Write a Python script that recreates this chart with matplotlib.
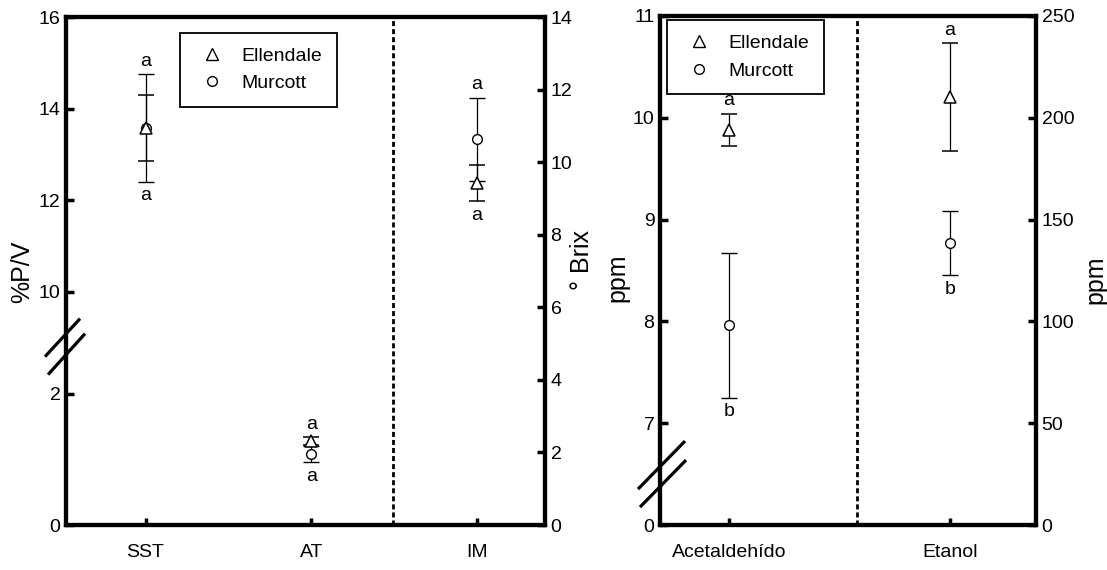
import numpy as np
import matplotlib.pyplot as plt
from matplotlib.lines import Line2D
from matplotlib.ticker import FixedLocator

plt.rcParams['font.family'] = ['Liberation Sans', 'DejaVu Sans']
plt.rcParams['font.size'] = 14

# ---- datos panel izquierdo ----
left_cats = ['SST', 'AT', 'IM']
left_side = ['right', 'left', 'left']
left_ell = [10.94, 1.28, 12.37]
left_ell_err = [0.90, 0.06, 0.39]
left_mur = [10.94, 1.08, 13.33]
left_mur_err = [1.48, 0.12, 0.91]
left_top = ['a', 'a', 'a']
left_bot = ['a', 'a', 'a']
left_yticks = [0, 2, 10, 12, 14, 16]
brix_ticks = [0, 2, 4, 6, 8, 10, 12, 14]

# ---- datos panel derecho ----
right_cats = ['Acetaldehído', 'Etanol']
right_side = ['left', 'right']
right_ell = [9.88, 210.0]
right_ell_err = [0.16, 26.5]
right_mur = [7.96, 138.5]
right_mur_err = [0.71, 15.7]
right_top = ['a', 'a']
right_bot = ['b', 'b']
ppm_left_ticks = [0, 7, 8, 9, 10, 11]
ppm_right_ticks = [0, 50, 100, 150, 200, 250]

W, H = 1107, 570
fig = plt.figure(figsize=(W / 100, H / 100), dpi=100)


def box(l, r, t, b):
    return [l / W, 1 - b / H, (r - l) / W, (b - t) / H]


def style(ax, side):
    for s in ax.spines.values():
        s.set_linewidth(3)
        s.set_color('black')
    ax.tick_params(axis='y', which='major', direction='in', length=6, width=2.5,
                   pad=4, left=(side == 'left'), labelleft=(side == 'left'),
                   right=(side == 'right'), labelright=(side == 'right'))
    ax.tick_params(axis='y', which='minor', left=False, right=False)


def panel(ax, axr, cats, side, ell, ell_err, mur, mur_err, top, bot):
    x = np.arange(len(cats))
    for i in range(len(cats)):
        a = axr if side[i] == 'right' else ax
        a.errorbar(x[i], mur[i], yerr=mur_err[i], fmt='o', ms=7, mfc='white',
                   mec='black', mew=1, ecolor='black', elinewidth=0.9,
                   capsize=5.5, capthick=0.9, zorder=3)
        a.errorbar(x[i], ell[i], yerr=ell_err[i], fmt='^', ms=9, mfc='white',
                   mec='black', mew=1.1, ecolor='black', elinewidth=0.9,
                   capsize=5.5, capthick=0.9, zorder=4)
        hi = max(ell[i] + ell_err[i], mur[i] + mur_err[i])
        lo = min(ell[i] - ell_err[i], mur[i] - mur_err[i])
        a.annotate(top[i], (x[i], hi), xytext=(0, 6), textcoords='offset points',
                   ha='center', va='baseline')
        a.annotate(bot[i], (x[i], lo), xytext=(0, -13.5), textcoords='offset points',
                   ha='center', va='baseline')
    ax.set_xticks(x, cats)
    ax.tick_params(axis='x', direction='in', length=5, width=2.5, pad=14, top=False)
    axr.tick_params(axis='x', bottom=False, top=False, labelbottom=False)


def legend(ax, anchor):
    h = [Line2D([], [], marker='^', ls='none', mfc='white', mec='black', ms=9),
         Line2D([], [], marker='o', ls='none', mfc='white', mec='black', ms=7)]
    lg = ax.legend(h, ['Ellendale', 'Murcott'], loc='upper left', bbox_to_anchor=anchor,
                   borderaxespad=0, fancybox=False, edgecolor='black', framealpha=1,
                   handlelength=1.8, handletextpad=0.6, borderpad=0.75, labelspacing=0.5)
    lg.get_frame().set_linewidth(1.3)
    lg.set_zorder(10)


def draw_break(ax, yval, segs):
    cx, cy = ax.transData.transform((ax.get_xlim()[0], yval))
    inv = fig.transFigure.inverted()
    for dx0, dy0, dx1, dy1 in segs:
        p = inv.transform([(cx + dx0, cy + dy0), (cx + dx1, cy + dy1)])
        fig.add_artist(Line2D(p[:, 0], p[:, 1], color='black', lw=2.3,
                              solid_capstyle='butt', zorder=20))


# ---------------- panel izquierdo ----------------
lp_vals, lp_pos = [0, 2, 10, 16], [0, 3.62, 6.43, 14.0]
ax1 = fig.add_axes(box(66, 545, 17, 525))
ax1.set_yscale('function', functions=(lambda v: np.interp(v, lp_vals, lp_pos),
                                      lambda b: np.interp(b, lp_pos, lp_vals)))
ax1.set_ylim(0, 16)
ax1.yaxis.set_major_locator(FixedLocator(left_yticks))
ax1.set_yticklabels([str(t) for t in left_yticks])
ax1.set_xlim(-0.48, 2.41)
ax1b = ax1.twinx()
ax1b.set_ylim(0, 14)
ax1b.set_yticks(brix_ticks)
style(ax1, 'left')
style(ax1b, 'right')
panel(ax1, ax1b, left_cats, left_side, left_ell, left_ell_err, left_mur, left_mur_err,
      left_top, left_bot)
ax1.axvline(1.49, color='black', lw=2, ls=(0, (1.8, 1.1)), zorder=1)
legend(ax1b, (0.238, 0.969))
draw_break(ax1, 6, [(-21, -14, 14, 24), (-18, -32, 19, 9)])

# ---------------- panel derecho ----------------
rp_vals, rp_pos = [0, 7, 11], [0, 1, 5]
ax2 = fig.add_axes(box(660, 1036, 16, 525))
ax2.set_yscale('function', functions=(lambda v: np.interp(v, rp_vals, rp_pos),
                                      lambda b: np.interp(b, rp_pos, rp_vals)))
ax2.set_ylim(0, 11)
ax2.yaxis.set_major_locator(FixedLocator(ppm_left_ticks))
ax2.set_yticklabels([str(t) for t in ppm_left_ticks])
ax2.set_xlim(-0.312, 1.389)
ax2b = ax2.twinx()
ax2b.set_ylim(0, 250)
ax2b.set_yticks(ppm_right_ticks)
style(ax2, 'left')
style(ax2b, 'right')
panel(ax2, ax2b, right_cats, right_side, right_ell, right_ell_err, right_mur, right_mur_err,
      right_top, right_bot)
ax2.axvline(0.579, color='black', lw=2, ls=(0, (1.8, 1.1)), zorder=1)
legend(ax2b, (0.019, 0.992))
draw_break(ax2, 3.5, [(-22, -15, 25, 33), (-20, -33, 26, 14)])

# etiquetas de ejes
fig.text(22 / W, 1 - 272 / H, '%P/V', rotation=90, ha='center', va='center', fontsize=18)
fig.text(582 / W, 1 - 260 / H, '° Brix', rotation=90, ha='center', va='center', fontsize=18)
fig.text(617 / W, 1 - 278 / H, 'ppm', rotation=90, ha='center', va='center', fontsize=18)
fig.text(1095 / W, 1 - 280 / H, 'ppm', rotation=90, ha='center', va='center', fontsize=18)

fig.savefig('out.png', dpi=100)
